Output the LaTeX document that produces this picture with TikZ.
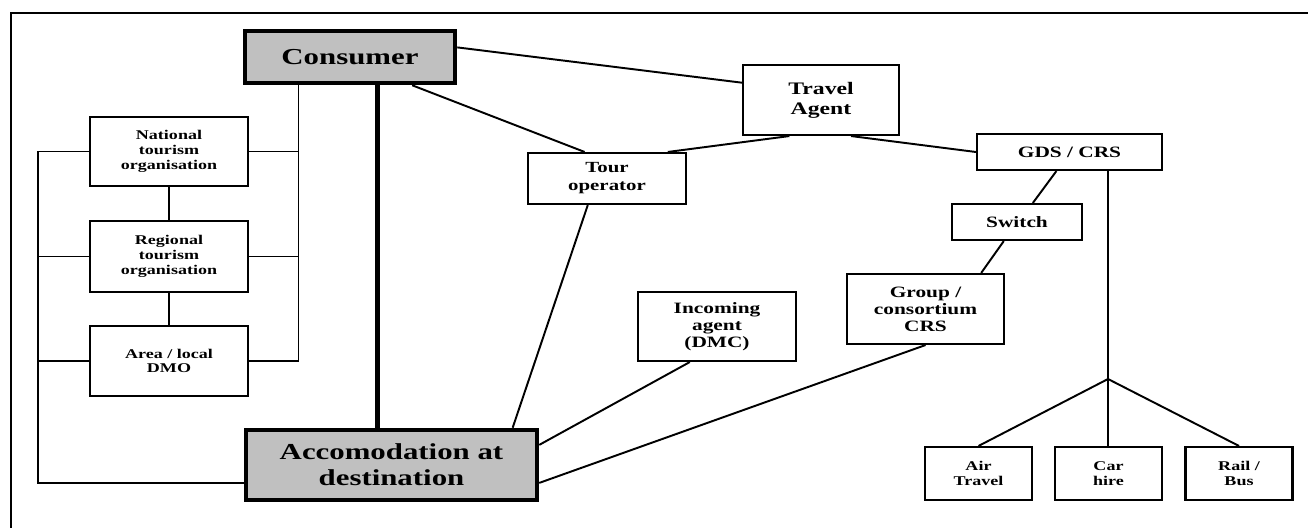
\documentclass[tikz,border=0pt]{standalone}
\usepackage{fontspec}
\newfontfamily\diagfont{Liberation Serif}[FakeStretch=1.35]
\usepackage{tikz}
\usetikzlibrary{positioning, calc}
\definecolor{boxgray}{RGB}{192,192,192}

\begin{document}
\begin{tikzpicture}[
  x=0.02cm, y=-0.02cm,
  box/.style={draw, line width=1.2pt, align=center, inner sep=1pt,
    font=\diagfont\bfseries\fontsize{9}{9.6}\selectfont},
  mainbox/.style={box, fill=boxgray, line width=2.6pt,
    font=\diagfont\bfseries\fontsize{13}{14.6}\selectfont},
  smallbox/.style={box, minimum width=3.16cm, minimum height=1.4cm,
    font=\diagfont\bfseries\fontsize{7.6}{8.4}\selectfont},
  modebox/.style={box, minimum width=2.14cm, minimum height=1.06cm,
    font=\diagfont\bfseries\fontsize{7.6}{8.6}\selectfont},
  link/.style={line width=1.1pt},
  ]
  \useasboundingbox (0,0) rectangle (1308,528);
  % frame
  \draw[line width=1.3pt] (1308,13) -- (11,13) -- (11,528);

  % consumer side
  \node[mainbox, minimum width=4.2cm, minimum height=1.04cm] (CONS) at (350,57) {Consumer};
  \node[mainbox, minimum width=5.82cm, minimum height=1.4cm] (ACC) at (391.5,465)
    {Accomodation at\\destination};

  % tourism organisations
  \node[smallbox, minimum height=1.38cm] (NTO) at (169,151.5) {National\\tourism\\organisation};
  \node[smallbox, minimum height=1.42cm] (RTO) at (169,256.5) {Regional\\tourism\\organisation};
  \node[smallbox] (DMO) at (169,361) {Area / local\\DMO};

  % intermediaries
  \node[box, minimum width=3.12cm, minimum height=1.4cm,
    font=\diagfont\bfseries\fontsize{10}{11.4}\selectfont] (TA) at (821,100) {Travel\\Agent};
  \node[box, minimum width=3.16cm, minimum height=1.02cm,
    font=\diagfont\bfseries\fontsize{8.8}{10.2}\selectfont] (TO) at (607,178.5) {Tour\\operator};
  \node[box, minimum width=3.16cm, minimum height=1.38cm] (DMC) at (717,326.5) {Incoming\\agent\\(DMC)};
  \node[box, minimum width=3.14cm, minimum height=1.4cm] (GRP) at (925.5,309) {Group /\\consortium\\CRS};
  \node[box, minimum width=3.7cm, minimum height=0.72cm] (GDS) at (1069.5,152) {GDS / CRS};
  \node[box, minimum width=2.6cm, minimum height=0.72cm] (SW) at (1017,222) {Switch};

  % suppliers
  \node[modebox] (AIR) at (978.5,473.5) {Air\\Travel};
  \node[modebox] (CAR) at (1108.5,473.5) {Car\\hire};
  \node[modebox] (RAIL) at (1239,473.5) {Rail /\\Bus};

  \coordinate (brR) at ($(CONS.south west)!0.26!(CONS.south east)$);
  \coordinate (brL) at (38,483);
  \coordinate (fork) at (1108,379);

  % brackets round the organisations
  \draw[link] (brR) |- (DMO.east);
  \draw[link] (NTO.east) -- (NTO.east -| brR);
  \draw[link] (RTO.east) -- (RTO.east -| brR);
  \draw[link] (NTO.west) -| (brL) -- (brL -| ACC.west);
  \draw[link] (RTO.west) -- (RTO.west -| brL);
  \draw[link] (DMO.west) -- (DMO.west -| brL);
  \draw[link] (NTO.south) -- (RTO.north);
  \draw[link] (RTO.south) -- (DMO.north);

  % direct link
  \draw[line width=2.8pt] ($(CONS.south west)!0.63!(CONS.south east)$) coordinate (thk)
    -- (thk |- ACC.north);

  % distribution links
  \draw[link] ($(CONS.north east)!0.33!(CONS.south east)$) -- ($(TA.north west)!0.26!(TA.south west)$);
  \draw[link] ($(CONS.south west)!0.79!(CONS.south east)$) -- ($(TO.north west)!0.36!(TO.north east)$);
  \draw[link] ($(TO.north west)!0.88!(TO.north east)$) -- ($(TA.south west)!0.30!(TA.south east)$);
  \draw[link] ($(TA.south west)!0.69!(TA.south east)$) -- (GDS.west);
  \draw[link] ($(TO.south west)!0.38!(TO.south east)$) -- ($(ACC.north west)!0.91!(ACC.north east)$);
  \draw[link] ($(DMC.south west)!0.33!(DMC.south east)$) -- ($(ACC.north east)!0.23!(ACC.south east)$);
  \draw[link] (GRP.south) -- ($(ACC.north east)!0.74!(ACC.south east)$);
  \draw[link] ($(GDS.south west)!0.43!(GDS.south east)$) -- ($(SW.north west)!0.62!(SW.north east)$);
  \draw[link] ($(SW.south west)!0.4!(SW.south east)$) -- ($(GRP.north west)!0.85!(GRP.north east)$);
  \draw[link] (fork |- GDS.south) -- (fork);
  \draw[link] (fork) -- (AIR.north);
  \draw[link] (fork) -- (CAR.north -| fork);
  \draw[link] (fork) -- (RAIL.north);
\end{tikzpicture}
\end{document}
